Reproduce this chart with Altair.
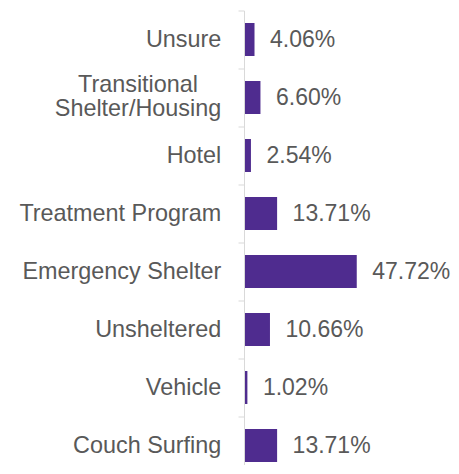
import altair as alt
import pandas as pd

categories = ["Unsure", "Transitional\nShelter/Housing", "Hotel", "Treatment Program",
              "Emergency Shelter", "Unsheltered", "Vehicle", "Couch Surfing"]
values = [4.06, 6.60, 2.54, 13.71, 47.72, 10.66, 1.02, 13.71]

df = pd.DataFrame({"category": categories, "value": values})
df["label"] = df["value"].map(lambda v: f"{v:.2f}%")
df["multiline"] = df["category"].str.contains("\n")

FONT = "Liberation Sans"
TXT = "#595959"
FS = 23.4

y = alt.Y("category:N", sort=categories,
          scale=alt.Scale(paddingInner=0, paddingOuter=0),
          axis=alt.Axis(labels=False, title=None, domainColor="#D9D9D9",
                        tickColor="#D9D9D9", tickSize=6, bandPosition=0,
                        grid=False, domainWidth=1, tickWidth=1, offset=1))
xq = alt.X("value:Q", scale=alt.Scale(domain=[0, 85.4], nice=False), axis=None)

base = alt.Chart(df)

bars = base.mark_bar(color="#4F2C8F", height=33).encode(x=xq, y=y)

vals = base.mark_text(align="left", baseline="middle", dx=15.5, fontSize=23,
                      font=FONT, color=TXT).encode(x=xq, y=y, text="label:N")

cats = base.transform_filter("!datum.multiline").mark_text(
    align="right", baseline="middle", dx=-23.7, fontSize=FS, font=FONT, color=TXT
).encode(x=alt.datum(0), y=y, text="category:N")

cats2 = base.transform_filter("datum.multiline").mark_text(
    align="center", baseline="middle", dx=-107, dy=-13, fontSize=FS, font=FONT, color=TXT,
    lineBreak="\n", lineHeight=24.5
).encode(x=alt.datum(0), y=y, text="category:N")

chart = alt.layer(bars, vals, cats, cats2).properties(
    width=200, height=464,
    autosize=alt.AutoSizeParams(type="none"),
    padding={"left": 237, "top": 2.5, "right": 6, "bottom": -10},
    background="white",
).configure_view(stroke=None)

chart.save("out.html", embed_options={"renderer": "svg", "actions": False})
